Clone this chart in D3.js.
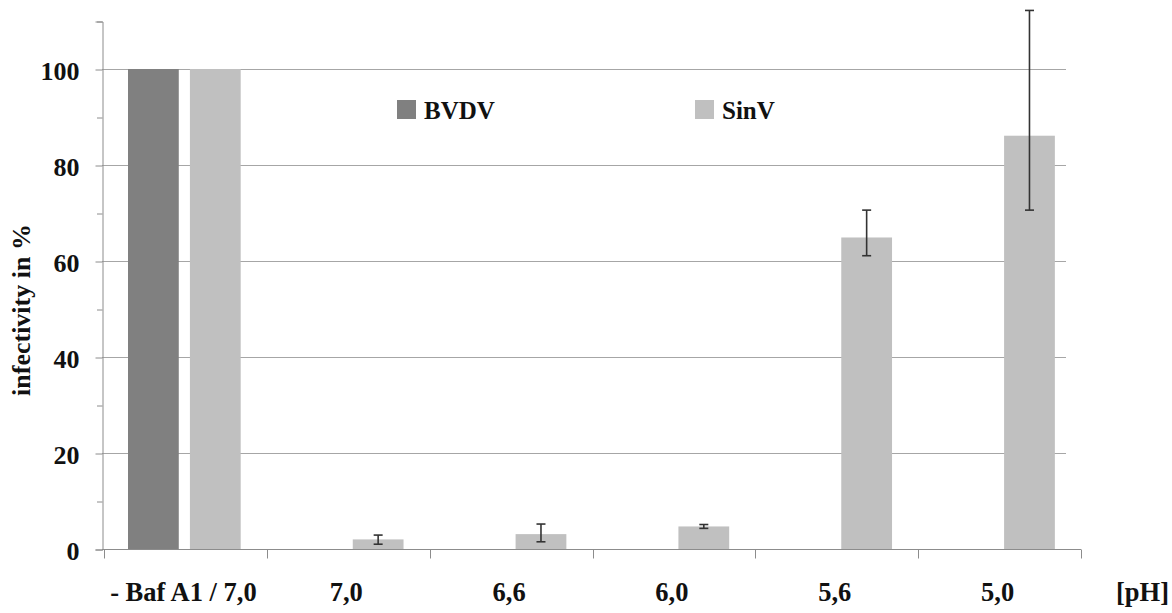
<!DOCTYPE html>
<html>
<head>
<meta charset="utf-8">
<script src="https://cdn.jsdelivr.net/npm/d3@7"></script>
<style>
    body { margin: 0; background: #fff; }
    text { font-family: "Liberation Serif", "Times New Roman", serif; font-weight: bold; fill: #111; }
</style>
</head>
<body>
<svg id="chart"></svg>
<script>
// values
var categories = ["- Baf A1 / 7,0", "7,0", "6,6", "6,0", "5,6", "5,0"];
var seriesNames = ["BVDV", "SinV"];
var bvdvValues = [100, null, null, null, null, null];
var sinvValues = [100, 2.0, 3.1, 4.7, 64.9, 86.1];
var sinvErrLow = [null, 1.0, 1.5, 4.3, 61.1, 70.6];
var sinvErrHigh = [null, 2.9, 5.2, 5.1, 70.6, 112.2];
var yTicks = [0, 10, 20, 30, 40, 50, 60, 70, 80, 90, 100, 110];
var gridValues = [20, 40, 60, 80, 100];

var barChart = function () {

    var width = 1172, height = 613;
    var colors = {"BVDV": "#808080", "SinV": "#c0c0c0"};

    function draw() {
        var svg = d3.select("#chart")
            .attr("width", width)
            .attr("height", height);

        var y = d3.scaleLinear().domain([0, 110]).range([549, 21]);
        var x = d3.scaleBand().domain(categories).range([104, 1081]);
        var xs = d3.scaleBand().domain(seriesNames).range([24, 136.7]).paddingInner(0.18);

        // gridlines
        svg.append("g").selectAll("line").data(gridValues).enter().append("line")
            .attr("x1", 102).attr("x2", 1066)
            .attr("y1", function (d) { return y(d) + 0.5; })
            .attr("y2", function (d) { return y(d) + 0.5; })
            .style("stroke", "#a6a6a6")
            .style("stroke-width", 1);

        // y axis
        var yAxis = svg.append("g")
            .attr("transform", "translate(102.5,0.5)")
            .call(d3.axisLeft(y).tickValues(yTicks).tickSize(7).tickPadding(16)
                .tickFormat(function (d) { return d % 20 === 0 ? d : ""; }));
        yAxis.select(".domain").style("stroke", "#8c8c8c");
        yAxis.selectAll(".tick line").style("stroke", "#8c8c8c")
            .attr("x2", function (d) { return d % 20 === 0 ? -7 : -5.5; });
        yAxis.selectAll(".tick text")
            .attr("dy", "0.38em")
            .style("font-size", "26px")
            .style("font-family", "Liberation Serif")
            .style("font-weight", "bold")
            .style("fill", "#111");

        // x axis
        var xAxis = svg.append("g").attr("transform", "translate(0,549.5)");
        xAxis.append("line")
            .attr("x1", 102).attr("x2", 1081)
            .style("stroke", "#8c8c8c");
        xAxis.selectAll("line.tk").data(d3.range(categories.length + 1)).enter().append("line")
            .attr("class", "tk")
            .attr("x1", function (i) { return Math.round(104 + i * x.bandwidth()) + 0.5; })
            .attr("x2", function (i) { return Math.round(104 + i * x.bandwidth()) + 0.5; })
            .attr("y1", 0).attr("y2", 9)
            .style("stroke", "#8c8c8c");
        svg.append("g").selectAll("text").data(categories).enter().append("text")
            .attr("x", function (d) { return x(d) + x.bandwidth() / 2 - 2; })
            .attr("y", 601)
            .attr("text-anchor", "middle")
            .style("font-size", "26.5px")
            .text(function (d) { return d; });
        svg.append("text")
            .attr("x", 1116).attr("y", 601)
            .style("font-size", "26.5px")
            .text("[pH]");

        // axis title
        svg.append("text")
            .attr("transform", "translate(30,310) rotate(-90)")
            .attr("text-anchor", "middle")
            .style("font-size", "26px")
            .text("infectivity in %");

        // bars
        var rows = categories.map(function (c, i) {
            return {cat: c, BVDV: bvdvValues[i], SinV: sinvValues[i], lo: sinvErrLow[i], hi: sinvErrHigh[i]};
        });
        var groups = svg.append("g").selectAll("g").data(rows).enter().append("g")
            .attr("transform", function (d) { return "translate(" + x(d.cat) + ",0)"; });
        groups.selectAll("rect")
            .data(function (d) {
                return seriesNames.map(function (s) { return {key: s, value: d[s]}; })
                    .filter(function (e) { return e.value != null; });
            })
            .enter().append("rect")
            .attr("x", function (d) { return xs(d.key); })
            .attr("width", xs.bandwidth())
            .attr("y", function (d) { return y(d.value); })
            .attr("height", function (d) { return y(0) - y(d.value); })
            .style("fill", function (d) { return colors[d.key]; });

        // error bars on SinV
        var errs = groups.filter(function (d) { return d.lo != null; }).append("g")
            .style("stroke", "#333")
            .style("stroke-width", 1.6);
        var cx = xs("SinV") + xs.bandwidth() / 2;
        errs.append("line")
            .attr("x1", cx).attr("x2", cx)
            .attr("y1", function (d) { return y(d.lo); })
            .attr("y2", function (d) { return y(d.hi); });
        errs.append("line")
            .attr("x1", cx - 4.5).attr("x2", cx + 4.5)
            .attr("y1", function (d) { return y(d.lo); })
            .attr("y2", function (d) { return y(d.lo); });
        errs.append("line")
            .attr("x1", cx - 4.5).attr("x2", cx + 4.5)
            .attr("y1", function (d) { return y(d.hi); })
            .attr("y2", function (d) { return y(d.hi); });

        // legend
        var legendX = {"BVDV": 397, "SinV": 695};
        var legend = svg.append("g").selectAll("g").data(seriesNames).enter().append("g")
            .attr("transform", function (d) { return "translate(" + legendX[d] + ",100)"; });
        legend.append("rect")
            .attr("width", 19).attr("height", 19)
            .style("fill", function (d) { return colors[d]; });
        legend.append("text")
            .attr("x", 27).attr("y", 19)
            .style("font-size", "25px")
            .text(function (d) { return d; });
    }

    return {
        draw: draw
    };

}();

barChart.draw();
</script>
</body>
</html>
